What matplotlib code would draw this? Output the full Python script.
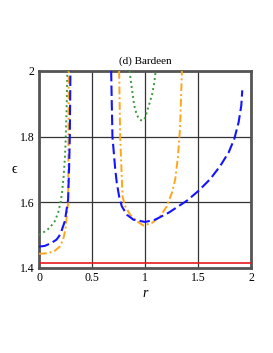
import matplotlib.pyplot as plt

# Values
green_r1 = [0, 0.054, 0.10, 0.148, 0.18, 0.205, 0.217, 0.232, 0.245, 0.252, 0.260, 0.267]
green_e1 = [1.50, 1.511, 1.522, 1.542, 1.568, 1.603, 1.63, 1.68, 1.74, 1.80, 1.88, 2.0]
green_r2 = [0.853, 0.875, 0.897, 0.918, 0.94, 0.96, 0.98, 1.0, 1.017, 1.04, 1.064, 1.085, 1.10]
green_e2 = [2.0, 1.947, 1.896, 1.870, 1.855, 1.850, 1.849, 1.857, 1.875, 1.90, 1.926, 1.96, 2.0]

blue_r1 = [0, 0.054, 0.116, 0.164, 0.19, 0.21, 0.243, 0.26, 0.274, 0.283, 0.29, 0.296]
blue_e1 = [1.465, 1.467, 1.476, 1.486, 1.497, 1.511, 1.542, 1.578, 1.608, 1.70, 1.80, 2.0]
blue_r2 = [0.68, 0.692, 0.718, 0.733, 0.755, 0.78, 0.828, 0.89, 1.0, 1.095,
           1.221, 1.395, 1.504, 1.615, 1.709, 1.788, 1.841, 1.882, 1.907, 1.916]
blue_e2 = [2.0, 1.8, 1.702, 1.659, 1.618, 1.588, 1.562, 1.547, 1.54, 1.547,
           1.568, 1.605, 1.635, 1.671, 1.711, 1.752, 1.793, 1.844, 1.895, 1.941]

orange_r1 = [0, 0.085, 0.148, 0.195, 0.227, 0.249, 0.261, 0.274, 0.278, 0.281]
orange_e1 = [1.443, 1.445, 1.452, 1.465, 1.486, 1.517, 1.557, 1.598, 1.80, 2.0]
orange_r2 = [0.755, 0.765, 0.787, 0.812, 0.859, 0.922, 0.985, 1.064, 1.142,
             1.205, 1.253, 1.284, 1.31, 1.33, 1.347]
orange_e2 = [2.0, 1.8, 1.618, 1.588, 1.562, 1.542, 1.529, 1.537, 1.557,
             1.588, 1.629, 1.67, 1.74, 1.83, 2.0]

red_level = 1.414

xticks = [0, 0.5, 1, 1.5, 2]
xtick_labels = ["0", "0.5", "1", "1.5", "2"]
yticks = [1.4, 1.6, 1.8, 2]
ytick_labels = ["1.4", "1.6", "1.8", "2"]

plt.rcParams["font.family"] = ["Liberation Serif", "DejaVu Serif"]

fig = plt.figure(figsize=(2.73, 3.53), dpi=100)
ax = fig.add_axes([0.143, 0.241, 0.777, 0.558])

# Red horizontal line
ax.axhline(red_level, color="#e8191f", lw=1.2, zorder=3)

# Green dotted
for r, e in [(green_r1, green_e1), (green_r2, green_e2)]:
    ax.plot(r, e, color="#3a9a3a", lw=1.4, linestyle=(0, (1, 1.6)), zorder=3)

# Blue dashed
for r, e in [(blue_r1, blue_e1), (blue_r2, blue_e2)]:
    ax.plot(r, e, color="#1414ff", lw=1.5, linestyle=(0, (5, 2)), zorder=4)

# Orange dash-dot
for r, e in [(orange_r1, orange_e1), (orange_r2, orange_e2)]:
    ax.plot(r, e, color="#ffa51a", lw=1.4, linestyle=(0, (4, 1.5, 1, 1.5)), zorder=3)

ax.set_xlim(0, 2)
ax.set_ylim(1.4, 2)
ax.set_xticks(xticks)
ax.set_xticklabels(xtick_labels)
ax.set_yticks(yticks)
ax.set_yticklabels(ytick_labels)
ax.tick_params(length=0, labelsize=8.5, pad=3, colors="black")

ax.grid(True, color="#333333", lw=0.9)
ax.set_axisbelow(True)
for s in ax.spines.values():
    s.set_linewidth(2)
    s.set_color("#555555")

ax.set_title("(d) Bardeen", fontsize=8, pad=5)
ax.set_xlabel("r", fontsize=10, fontstyle="italic", labelpad=2)
ax.set_ylabel("ϵ", fontsize=10, rotation=0, labelpad=4, va="center")

plt.savefig("out.png", dpi=100)
